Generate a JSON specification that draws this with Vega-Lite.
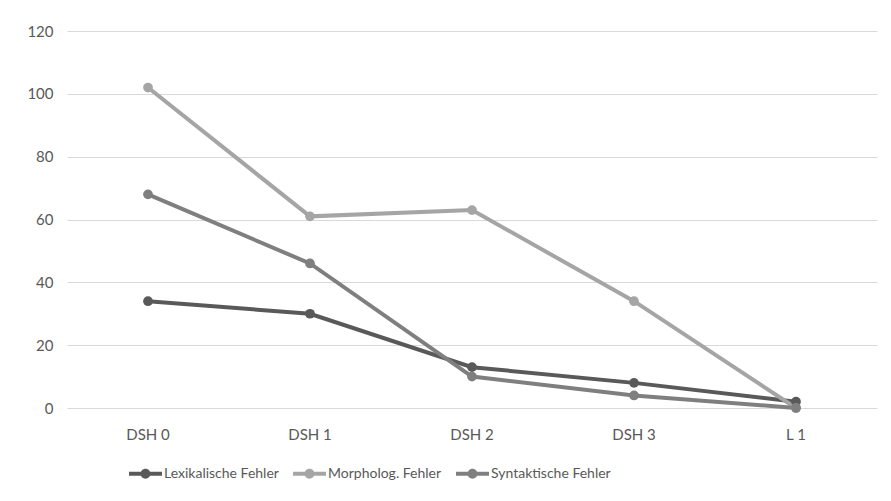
{
  "$schema": "https://vega.github.io/schema/vega-lite/v6.json",
  "width": 810,
  "height": 377,
  "autosize": {"type": "none"},
  "padding": {"left": 67, "top": 31, "right": 14, "bottom": 93},
  "background": "white",
  "config": {
    "view": {"stroke": null},
    "font": "Lato",
    "axis": {"labelFont": "Lato", "labelFontSize": 15, "labelColor": "#595959", "titleColor": "#595959"}
  },
  "data": {
    "values": [
      {"stage": "DSH 0", "series": "Lexikalische Fehler", "value": 34},
      {"stage": "DSH 1", "series": "Lexikalische Fehler", "value": 30},
      {"stage": "DSH 2", "series": "Lexikalische Fehler", "value": 13},
      {"stage": "DSH 3", "series": "Lexikalische Fehler", "value": 8},
      {"stage": "L 1", "series": "Lexikalische Fehler", "value": 2},
      {"stage": "DSH 0", "series": "Morpholog. Fehler", "value": 102},
      {"stage": "DSH 1", "series": "Morpholog. Fehler", "value": 61},
      {"stage": "DSH 2", "series": "Morpholog. Fehler", "value": 63},
      {"stage": "DSH 3", "series": "Morpholog. Fehler", "value": 34},
      {"stage": "L 1", "series": "Morpholog. Fehler", "value": 0},
      {"stage": "DSH 0", "series": "Syntaktische Fehler", "value": 68},
      {"stage": "DSH 1", "series": "Syntaktische Fehler", "value": 46},
      {"stage": "DSH 2", "series": "Syntaktische Fehler", "value": 10},
      {"stage": "DSH 3", "series": "Syntaktische Fehler", "value": 4},
      {"stage": "L 1", "series": "Syntaktische Fehler", "value": 0}
    ]
  },
  "encoding": {
    "x": {
      "field": "stage", "type": "nominal", "sort": null,
      "scale": {"type": "band", "paddingInner": 0, "paddingOuter": 0},
      "axis": {"title": null, "labelAngle": 0, "domain": false, "ticks": false, "grid": false, "labelPadding": 19}
    },
    "y": {
      "field": "value", "type": "quantitative",
      "scale": {"domain": [0, 120], "nice": false, "zero": true},
      "axis": {"title": null, "values": [0, 20, 40, 60, 80, 100, 120], "domain": false, "ticks": false, "gridColor": "#d9d9d9", "gridWidth": 1, "labelPadding": 14}
    },
    "color": {
      "field": "series", "type": "nominal",
      "scale": {"domain": ["Lexikalische Fehler", "Morpholog. Fehler", "Syntaktische Fehler"], "range": ["#595959", "#a5a5a5", "#7f7f7f"]},
      "legend": {
        "title": null,
        "orient": "none",
        "legendX": 62,
        "legendY": 426,
        "direction": "horizontal",
        "symbolType": "M-1,-0.12H1V0.12H-1Z M0.3,0A0.3,0.3 0 1,1 -0.3,0A0.3,0.3 0 1,1 0.3,0Z",
        "symbolSize": 1089,
        "symbolStrokeWidth": 0,
        "labelFont": "Lato",
        "labelFontSize": 14,
        "labelColor": "#595959",
        "labelOffset": 2,
        "columnPadding": 14,
        "encode": {"symbols": {"update": {"fill": {"scale": "color", "field": "value"}, "fillOpacity": {"value": 1}, "strokeWidth": {"value": 0}}}}
      }
    }
  },
  "layer": [
    {"mark": {"type": "line", "strokeWidth": 4}},
    {"mark": {"type": "point", "filled": true, "size": 95, "opacity": 1}}
  ]
}
